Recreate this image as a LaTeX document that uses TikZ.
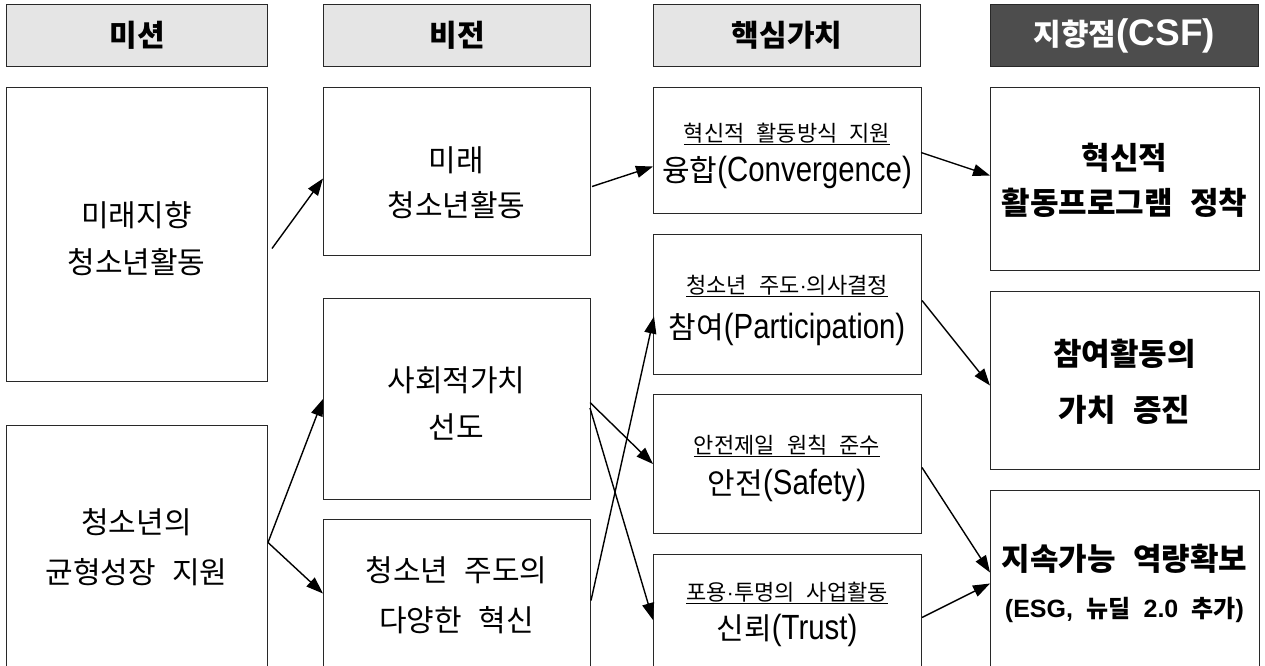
\documentclass[tikz,border=0pt]{standalone}
\usepackage{fontspec}
\setmainfont{Noto Sans CJK KR}
\newfontfamily\latfont[FakeStretch=0.84]{Liberation Sans}
\newfontfamily\latbfont{Liberation Sans}
\usetikzlibrary{arrows.meta,calc}
\newcommand{\wsp}{\hspace{0.55em}}
\newcommand{\mdot}{{\latbfont ·}}
\definecolor{hdrgray}{RGB}{229,229,229}
\definecolor{hdrdark}{RGB}{77,77,77}
\definecolor{edge}{RGB}{40,40,40}
\tikzset{
  box/.style={draw=edge, line width=1pt, fill=white, inner sep=0pt, anchor=north west},
  hdr/.style={box, fill=hdrgray, font={\bfseries\fontsize{30}{32}\selectfont}},
  body/.style={align=center, inner sep=0pt, font={\fontsize{30}{47}\selectfont}},
  small/.style={inner sep=0pt, anchor=base, font={\fontsize{22}{24}\selectfont}},
  big/.style={inner sep=0pt, anchor=base, font={\fontsize{30}{32}\selectfont}},
  csf/.style={align=center, inner sep=0pt, font={\bfseries\fontsize{31}{45}\selectfont}},
  arr/.style={line width=1.4pt, -{Triangle[length=17pt,width=12pt]}},
}
\begin{document}
\begin{tikzpicture}[x=1pt,y=-1pt]
\useasboundingbox (0,0) rectangle (1265,665);
\clip (0,0) rectangle (1265,665);
% headers
\node[hdr, minimum width=261pt, minimum height=62pt] (h1) at (6,4) {미션};
\node[hdr, minimum width=267pt, minimum height=62pt] (h2) at (323,4) {비전};
\node[hdr, minimum width=267pt, minimum height=62pt] (h3) at (653,4) {핵심가치};
\node[hdr, fill=hdrdark, text=white, minimum width=268pt, minimum height=62pt] (h4) at (990,4) {지향점{\latbfont\bfseries\fontsize{37}{32}\selectfont (CSF)}};
% column 1
\node[box, minimum width=261pt, minimum height=294pt] (m1) at (6,87) {};
\node[box, minimum width=261pt, minimum height=260pt] (m2) at (6,425) {};
% column 2
\node[box, minimum width=267pt, minimum height=168pt] (v1) at (323,87) {};
\node[box, minimum width=267pt, minimum height=201pt] (v2) at (323,298) {};
\node[box, minimum width=267pt, minimum height=166pt] (v3) at (323,519) {};
% column 3
\node[box, minimum width=268pt, minimum height=126pt] (c1) at (653,87) {};
\node[box, minimum width=268pt, minimum height=140pt] (c2) at (653,234) {};
\node[box, minimum width=268pt, minimum height=139pt] (c3) at (653,394) {};
\node[box, minimum width=268pt, minimum height=131pt] (c4) at (653,554) {};
% column 4
\node[box, minimum width=269pt, minimum height=183pt] (f1) at (990,87) {};
\node[box, minimum width=269pt, minimum height=178pt] (f2) at (990,291) {};
\node[box, minimum width=269pt, minimum height=195pt] (f3) at (990,490) {};
% texts column 1-2
\node[body] (m1t) at (136.5,238.5) {미래지향\\청소년활동};
\node[body, font={\fontsize{30}{50}\selectfont}] (m2t) at (136.5,547) {청소년의\\균형성장\wsp 지원};
\node[body, font={\fontsize{30}{45}\selectfont}] (v1t) at (456.5,182.5) {미래\\청소년활동};
\node[body] (v2t) at (456.5,403.5) {사회적가치\\선도};
\node[body, font={\fontsize{30}{50}\selectfont}] (v3t) at (456.5,595) {청소년\wsp 주도의\\다양한\wsp 혁신};
% texts column 3
\node[small] (c1a) at (787,141) {\underline{혁신적\wsp 활동방식\wsp 지원}};
\node[big] (c1b) at (787,181) {융합{\latfont\fontsize{35}{32}\selectfont (Convergence)}};
\node[small] (c2a) at (787,293) {\underline{청소년\wsp 주도\mdot 의사결정}};
\node[big] (c2b) at (787,338) {참여{\latfont\fontsize{35}{32}\selectfont (Participation)}};
\node[small] (c3a) at (787,453) {\underline{안전제일\wsp 원칙\wsp 준수}};
\node[big] (c3b) at (787,494) {안전{\latfont\fontsize{35}{32}\selectfont (Safety)}};
\node[small] (c4a) at (787,600) {\underline{포용\mdot 투명의\wsp 사업활동}};
\node[big] (c4b) at (787,639) {신뢰{\latfont\fontsize{35}{32}\selectfont (Trust)}};
% texts column 4
\node[csf] (f1t) at (1124.5,180.5) {혁신적\\활동프로그램\wsp 정착};
\node[csf, font={\bfseries\fontsize{31}{56}\selectfont}] (f2t) at (1124.5,382) {참여활동의\\가치\wsp 증진};
\node[inner sep=0pt, anchor=base, font={\bfseries\fontsize{31}{32}\selectfont}] (f3a) at (1124.5,570) {지속가능\wsp 역량확보};
\node[inner sep=0pt, anchor=base, font={\bfseries\fontsize{24}{24}\selectfont}] (f3b) at (1124.5,617) {{\latbfont\fontsize{25}{24}\selectfont (ESG,}\wsp 뉴딜\wsp {\latbfont\fontsize{25}{24}\selectfont 2.0}\wsp 추가{\latbfont\fontsize{25}{24}\selectfont )}};
% arrows
\draw[arr] ($(m1.east)+(4,14)$) -- ($(v1.west)+(0,7)$);
\draw[arr] ($(m2.east)+(0,-13)$) -- (v2.west);
\draw[arr] ($(m2.east)+(0,-13)$) -- ($(v3.west)+(0,-9)$);
\draw[arr] ($(v1.east)+(1,15)$) -- ($(c1.west)+(0,16)$);
\draw[arr] ($(c1.east)+(-1,2)$) -- ($(f1.west)+(0,-3.5)$);
\draw[arr] ($(v2.east)+(-1,3.5)$) -- (c3.west);
\draw[arr] ($(v2.east)+(-1,9)$) -- (c4.west);
\draw[arr] ($(v3.east)+(0,-2)$) -- ($(c2.west)+(1,12)$);
\draw[arr] ($(c2.east)+(0,-4)$) -- ($(f2.west)+(0,5)$);
\draw[arr] ($(c3.east)+(0,3.5)$) -- ($(f3.west)+(0,-15.5)$);
\draw[arr] ($(c4.east)+(0,-2.5)$) -- ($(f3.west)+(0,-4.5)$);
\end{tikzpicture}
\end{document}
